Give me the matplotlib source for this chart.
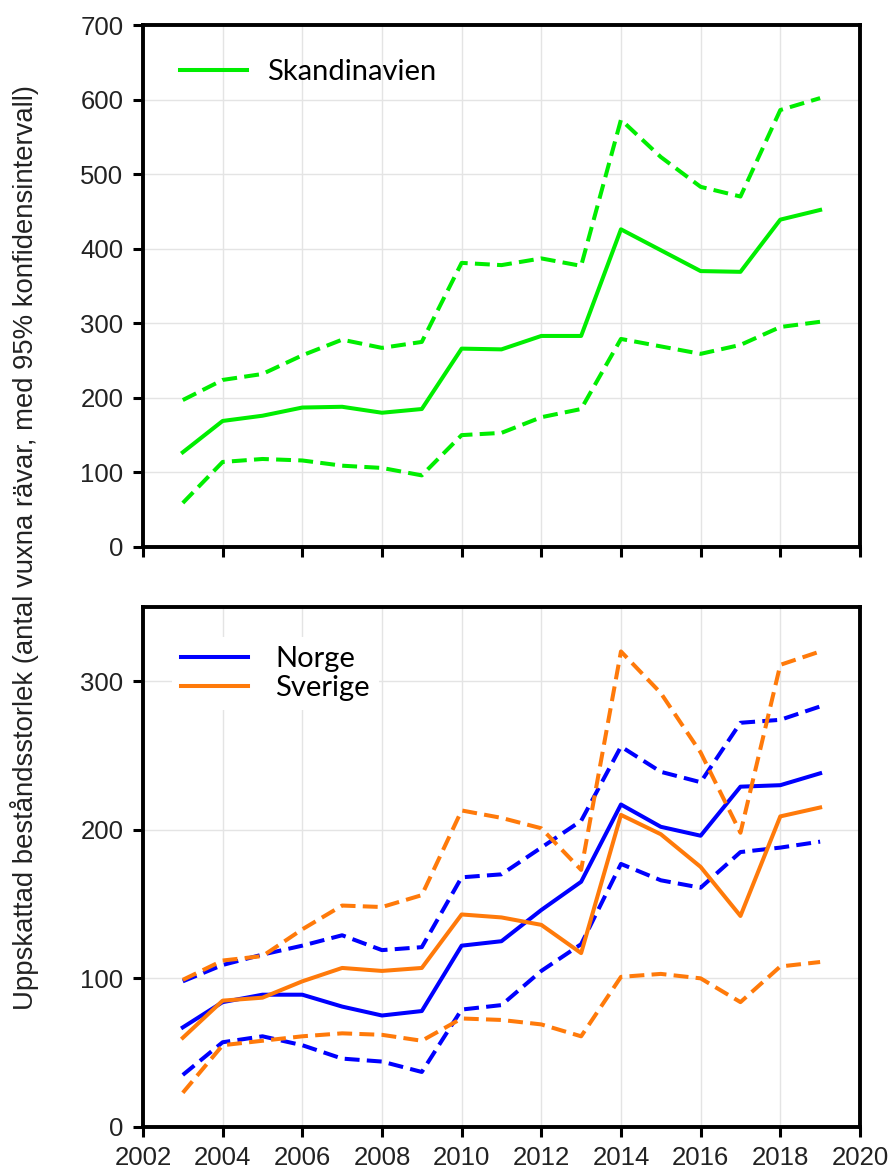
import numpy as np
import matplotlib
matplotlib.use('Agg')
import matplotlib.pyplot as plt

years = list(range(2003, 2020))

# Skandinavien
skand_mean = [127, 169, 176, 187, 188, 180, 185, 266, 265, 283, 283, 426, 398, 370, 369, 439, 452]
skand_upper = [197, 224, 232, 257, 278, 267, 275, 381, 378, 387, 377, 573, 523, 483, 470, 586, 602]
skand_lower = [59, 114, 118, 116, 109, 106, 96, 150, 153, 174, 185, 279, 269, 259, 271, 295, 302]

# Norge
norge_mean = [67, 84, 89, 89, 81, 75, 78, 122, 125, 146, 165, 217, 202, 196, 229, 230, 238]
norge_upper = [98, 109, 116, 122, 129, 119, 121, 168, 170, 188, 206, 256, 239, 232, 272, 274, 283]
norge_lower = [35, 57, 61, 55, 46, 44, 37, 79, 82, 105, 123, 177, 166, 161, 185, 188, 192]

# Sverige
sverige_mean = [60, 85, 87, 98, 107, 105, 107, 143, 141, 136, 117, 210, 197, 175, 142, 209, 215]
sverige_upper = [99, 112, 115, 133, 149, 148, 156, 213, 208, 201, 173, 320, 292, 252, 198, 311, 320]
sverige_lower = [23, 55, 58, 61, 63, 62, 58, 73, 72, 69, 61, 101, 103, 100, 84, 108, 111]

GREEN = '#00ee00'
BLUE = '#0000ff'
ORANGE = '#ff7a0a'
LW = 2.9
DASH = (3.7, 1.8)

plt.rcParams['font.family'] = ['Liberation Sans', 'DejaVu Sans']

fig = plt.figure(figsize=(8.93, 11.75), dpi=100)
ax1 = fig.add_axes([0.1601, 0.5345, 0.8029, 0.4442])
ax2 = fig.add_axes([0.1601, 0.0409, 0.8029, 0.4426])


def style(ax, ymax, ystep):
    ax.set_xlim(2002, 2020)
    ax.set_ylim(0, ymax)
    ax.set_xticks(range(2002, 2021, 2))
    ax.set_yticks(range(0, ymax + 1, ystep))
    ax.grid(True, color='#e4e4e4', linewidth=1.0)
    ax.set_axisbelow(True)
    for s in ax.spines.values():
        s.set_linewidth(2.8)
        s.set_color('black')
    ax.tick_params(direction='out', length=7, width=2.2, labelsize=18.5,
                   labelcolor='#222222', pad=7)


style(ax1, 700, 100)
ax1.tick_params(axis='x', labelbottom=False)
ax1.plot(years, skand_upper, color=GREEN, lw=LW, dashes=DASH)
ax1.plot(years, skand_lower, color=GREEN, lw=LW, dashes=DASH)
ax1.plot(years, skand_mean, color=GREEN, lw=LW, label='Skandinavien')
leg1 = ax1.legend(loc='upper left', bbox_to_anchor=(0.015, 0.985), frameon=False,
                  prop={'family': 'Lato', 'size': 21}, handlelength=2.3,
                  handletextpad=0.7)

style(ax2, 350, 100)
ax2.plot(years, norge_upper, color=BLUE, lw=LW, dashes=DASH)
ax2.plot(years, norge_lower, color=BLUE, lw=LW, dashes=DASH)
l_no, = ax2.plot(years, norge_mean, color=BLUE, lw=LW, label='Norge')
ax2.plot(years, sverige_upper, color=ORANGE, lw=LW, dashes=DASH)
ax2.plot(years, sverige_lower, color=ORANGE, lw=LW, dashes=DASH)
l_sv, = ax2.plot(years, sverige_mean, color=ORANGE, lw=LW, label='Sverige')
leg2 = ax2.legend(handles=[l_no, l_sv], loc='upper left', bbox_to_anchor=(0.02, 0.97),
                  frameon=True, facecolor='white', edgecolor='none', framealpha=1,
                  prop={'family': 'Lato', 'size': 21}, handlelength=2.3,
                  handletextpad=0.95, labelspacing=0.12, borderpad=0.3)

fig.text(25 / 893, 1 - 548 / 1175,
         'Uppskattad beståndsstorlek (antal vuxna rävar, med 95% konfidensintervall)',
         rotation=90, ha='center', va='center', fontsize=19.8, color='#222222')

fig.savefig('out.png', dpi=100)
